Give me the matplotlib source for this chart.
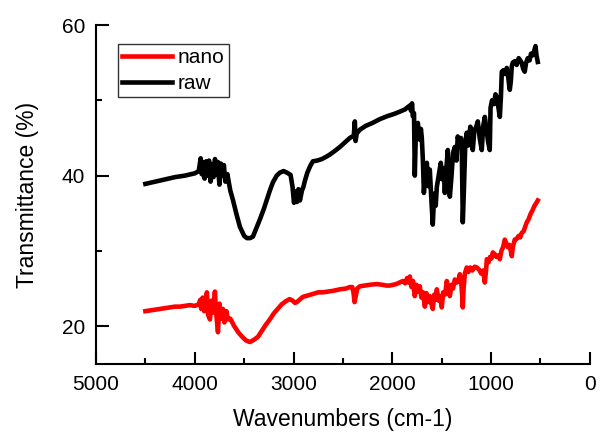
import matplotlib
matplotlib.use('Agg')
import matplotlib.pyplot as plt
from matplotlib.ticker import MultipleLocator

plt.rcParams['font.family'] = ['Liberation Sans', 'DejaVu Sans']

# FTIR spectrum of the raw sample (wavenumber, transmittance)
raw_wn = [4500, 4400, 4300, 4200, 4100, 4000, 3960, 3950, 3940, 3930, 3922, 3915, 3907, 3900,
          3892, 3885, 3877, 3870, 3862, 3855, 3847, 3840, 3832, 3825, 3817, 3810, 3802, 3795,
          3787, 3780, 3772, 3765, 3757, 3750, 3742, 3735, 3727, 3720, 3712, 3705, 3697, 3690,
          3670, 3640, 3614,
          3580, 3543, 3500, 3472, 3440, 3411, 3380, 3340, 3300, 3270, 3240, 3209, 3170, 3138,
          3100, 3067, 3030, 3010, 2995, 2980, 2965, 2950, 2935, 2915, 2900, 2885, 2860, 2830,
          2804, 2760, 2713, 2670, 2632, 2580, 2531, 2480, 2430, 2390, 2379, 2372, 2360, 2328,
          2270, 2200, 2126, 2050, 1980, 1923, 1870, 1843, 1822, 1810, 1800, 1792, 1780, 1772,
          1760, 1741, 1725, 1710, 1701, 1690, 1680, 1665, 1650, 1635, 1620, 1605, 1590, 1575,
          1560, 1549, 1530, 1509, 1495, 1480, 1468, 1455, 1438, 1427, 1417, 1400, 1385, 1367,
          1350, 1337, 1320, 1305, 1296, 1290, 1286, 1275, 1260, 1246, 1230, 1210, 1195, 1185,
          1170, 1150, 1134, 1115, 1094, 1080, 1063, 1045, 1030, 1013, 1005, 990, 970, 955,
          942, 925, 911, 900, 891, 875, 860, 841, 825, 815, 810, 800, 790, 780,
          760, 740, 720, 709, 690, 675, 659, 645, 628, 610, 595, 575, 560, 550,
          540, 527]
raw_t = [38.9, 39.2, 39.5, 39.8, 40.0, 40.3, 40.6, 41.5, 42.3, 40.2, 41.2, 41.8, 39.9, 39.6,
         41.0, 41.9, 40.6, 40.0, 41.4, 42.0, 40.3, 39.2, 40.8, 41.5, 40.4, 39.8, 41.1, 42.2,
         40.7, 40.1, 41.3, 41.8, 39.9, 38.8, 40.4, 41.6, 40.9, 40.0, 40.8, 41.4, 40.1, 39.2,
         40.2, 38.0, 36.8,
         35.0, 33.2, 32.0, 31.7, 31.7, 31.9, 32.9, 34.2, 35.6, 36.8, 38.0, 39.1, 40.0, 40.4,
         40.6, 40.4, 40.1, 38.5, 36.4, 37.9, 36.5, 38.2, 36.7, 38.0, 38.5, 39.3, 40.4, 41.3,
         41.9, 42.0, 42.2, 42.5, 42.8, 43.3, 43.8, 44.4, 45.0, 45.3, 47.2, 44.6, 45.6, 46.1,
         46.6, 47.0, 47.5, 47.9, 48.2, 48.5, 48.8, 49.1, 49.3, 48.6, 49.6, 47.9, 48.3, 40.0,
         46.5, 47.0, 44.8, 46.2, 45.0, 42.0, 37.7, 40.5, 41.7, 38.6, 40.8, 37.0, 33.5, 37.6,
         36.0, 38.5, 40.0, 41.7, 39.5, 41.0, 37.7, 40.5, 43.4, 38.5, 37.2, 40.0, 43.0, 43.8,
         42.0, 45.2, 44.0, 45.0, 43.4, 38.0, 33.8, 38.0, 44.5, 45.7, 44.0, 46.5, 46.1, 43.4,
         45.8, 46.5, 47.2, 45.0, 43.4, 46.5, 47.8, 46.0, 44.5, 43.4, 49.0, 50.0, 49.5, 50.8,
         50.5, 49.0, 47.8, 50.5, 53.8, 54.0, 53.5, 54.3, 53.0, 51.8, 51.4, 52.5, 54.5, 55.0,
         55.2, 54.7, 55.6, 55.4, 55.0, 54.2, 53.8, 55.0, 55.6, 55.3, 56.2, 56.0, 56.7, 57.2,
         56.0, 55.1]

# FTIR spectrum of the nano sample
nano_wn = [4500, 4450, 4400, 4350, 4300, 4250, 4200, 4150, 4100, 4050, 4000, 3960, 3945, 3935,
           3920, 3905, 3890, 3877, 3865, 3846, 3830, 3815, 3796, 3785, 3765, 3750, 3735, 3715,
           3700, 3680, 3665, 3640, 3600, 3560, 3520, 3480, 3442, 3400, 3360, 3320, 3280, 3240,
           3200, 3160, 3120, 3080, 3040, 3010, 2985, 2966, 2940, 2905, 2850, 2800, 2750, 2703,
           2650, 2600, 2530, 2470, 2430, 2405, 2392, 2382, 2370, 2355, 2328, 2280, 2230, 2156,
           2100, 2060, 2025, 1960, 1893, 1870, 1850, 1835, 1822, 1805, 1790, 1772, 1755, 1738,
           1721, 1705, 1690, 1670, 1655, 1640, 1620, 1605, 1590, 1575, 1560, 1549, 1530, 1515,
           1499, 1485, 1465, 1448, 1432, 1417, 1400, 1385, 1367, 1345, 1330, 1316, 1300, 1292,
           1286, 1278, 1265, 1246, 1230, 1210, 1190, 1165, 1144, 1120, 1100, 1080, 1070, 1063,
           1050, 1043, 1025, 1010, 995, 982, 965, 945, 925, 911, 895, 878, 861, 845,
           830, 815, 800, 790, 780, 770, 760, 740, 720, 705, 689, 670, 655, 638,
           620, 600, 580, 560, 540, 527]
nano_t = [22.0, 22.1, 22.2, 22.3, 22.4, 22.5, 22.6, 22.6, 22.7, 22.8, 22.7, 22.9, 23.5, 22.3,
          23.8, 22.0, 23.2, 24.5, 21.5, 20.9, 23.4, 21.8, 24.6, 22.0, 19.2, 23.0, 21.0, 22.3,
          20.5, 22.0, 20.9, 21.0, 20.0, 19.2, 18.6, 18.1, 17.9, 18.2, 18.6, 19.4, 20.2, 20.9,
          21.7, 22.3, 22.9, 23.3, 23.6, 23.4, 23.1, 23.2, 23.5, 23.9, 24.1, 24.3, 24.5, 24.5,
          24.6, 24.7, 24.9, 25.0, 25.2, 25.2, 24.4, 23.2, 24.0, 25.0, 25.3, 25.4, 25.5, 25.6,
          25.5, 25.4, 25.4, 25.6, 26.0, 25.7, 26.4, 25.8, 26.6, 25.2, 26.0, 24.0, 25.5, 24.6,
          25.3, 23.8, 24.5, 22.6, 24.4, 23.2, 24.0, 23.0, 22.3, 24.2, 23.5, 24.9, 23.4, 24.0,
          22.5, 24.5, 24.2, 26.0, 24.8, 24.0, 25.5, 25.0, 26.2, 25.8, 26.2, 26.9, 25.5, 24.0,
          22.5, 25.0, 27.0, 27.8, 27.2, 27.8, 27.4, 27.9, 27.8, 27.5, 27.0, 27.4, 26.5, 25.8,
          27.5, 28.9, 28.5, 29.2, 29.0, 29.8, 29.6, 29.2, 29.4, 28.9, 30.0, 30.5, 31.5, 31.0,
          30.5, 30.8, 30.0, 29.3, 30.5, 31.0, 31.5, 31.6, 32.0, 31.8, 32.4, 32.6, 33.2, 33.8,
          34.2, 34.9, 35.4, 36.0, 36.4, 36.7]

fig = plt.figure(figsize=(6, 4.47), dpi=100)
ax = fig.add_axes([0.16, 0.186, 0.823, 0.758])

ax.plot(nano_wn, nano_t, color='#ff0000', lw=3.3, label='nano')
ax.plot(raw_wn, raw_t, color='black', lw=3.3, label='raw')

ax.set_xlim(5000, 0)
ax.set_ylim(15, 60)
ax.xaxis.set_major_locator(MultipleLocator(1000))
ax.xaxis.set_minor_locator(MultipleLocator(500))
ax.yaxis.set_major_locator(MultipleLocator(20))
ax.yaxis.set_minor_locator(MultipleLocator(10))

for s in ['top', 'right']:
    ax.spines[s].set_visible(False)
for s in ['left', 'bottom']:
    ax.spines[s].set_linewidth(1.5)

ax.tick_params(which='major', direction='in', length=9, width=1.5, labelsize=15, pad=8)
ax.tick_params(which='minor', direction='in', length=4.5, width=1.5)

ax.set_xlabel('Wavenumbers (cm-1)', fontsize=16.5, labelpad=10)
ax.set_ylabel('Transmittance (%)', fontsize=16.5, labelpad=16)

leg = ax.legend(loc='upper left', bbox_to_anchor=(0.045, 0.945), fontsize=15,
                frameon=True, fancybox=False, handlelength=2.4, borderpad=0.2,
                labelspacing=0.35, handletextpad=0.25, borderaxespad=0)
leg.get_frame().set_edgecolor('black')
leg.get_frame().set_linewidth(1.0)

fig.savefig('out.png', dpi=100)
